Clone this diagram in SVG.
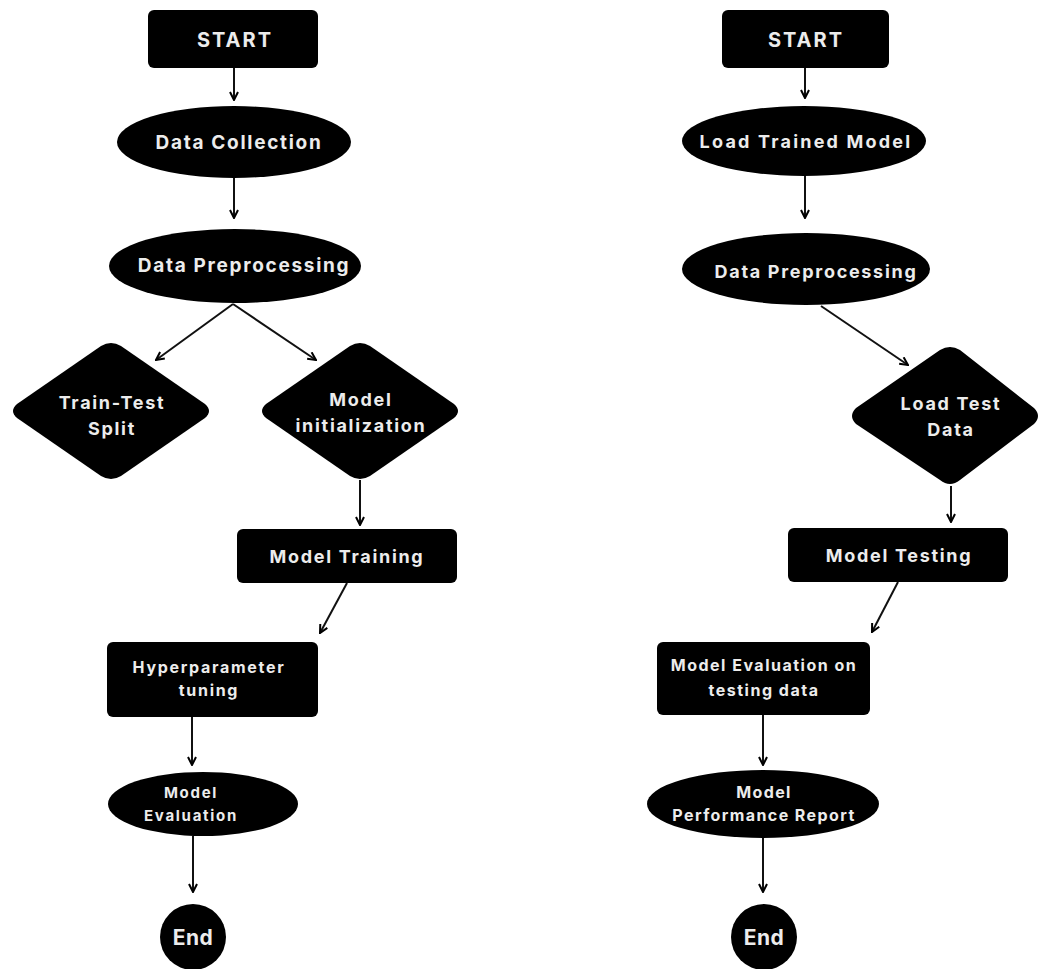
<svg xmlns="http://www.w3.org/2000/svg" width="1040" height="969" viewBox="0 0 1040 969">
<defs>
<marker id="arr" viewBox="0 0 10 10" refX="9" refY="5" markerWidth="10" markerHeight="10" markerUnits="userSpaceOnUse" orient="auto">
<path d="M1,1 L9,5 L1,9" fill="none" stroke="#000" stroke-width="2"/>
</marker>
</defs>
<style>
.n{fill:#000}
.t{fill:#ececec;font-family:Inter,"Liberation Sans",sans-serif;font-weight:700;text-anchor:middle;dominant-baseline:central;letter-spacing:1.7px}
.e{stroke:#111;stroke-width:2;fill:none;marker-end:url(#arr)}
</style>
<rect width="1040" height="969" fill="#fff"/>
<g id="connectors">
<line class="e" x1="234" y1="68" x2="234" y2="100"/>
<line class="e" x1="234" y1="178" x2="234" y2="218"/>
<line class="e" x1="233" y1="304" x2="156" y2="360"/>
<line class="e" x1="233" y1="304" x2="316" y2="360"/>
<line class="e" x1="360" y1="480" x2="360" y2="525"/>
<line class="e" x1="347" y1="583" x2="320" y2="633"/>
<line class="e" x1="192" y1="717" x2="192" y2="765"/>
<line class="e" x1="193" y1="836" x2="193" y2="892"/>
<line class="e" x1="805" y1="68" x2="805" y2="98"/>
<line class="e" x1="805" y1="176" x2="805" y2="218"/>
<line class="e" x1="821" y1="306" x2="908" y2="365"/>
<line class="e" x1="951" y1="486" x2="951" y2="522"/>
<line class="e" x1="898" y1="582" x2="872" y2="632"/>
<line class="e" x1="763" y1="715" x2="763" y2="765"/>
<line class="e" x1="763" y1="838" x2="763" y2="892"/>
</g>
<g id="l-start"><rect class="n" x="148" y="10" width="170" height="58" rx="6"/><text class="t" x="235" y="40" font-size="20" style="letter-spacing:2px">START</text></g>
<g id="l-collect"><ellipse class="n" cx="234" cy="142" rx="117" ry="36"/><text class="t" x="239" y="142" font-size="19">Data Collection</text></g>
<g id="l-preproc"><ellipse class="n" cx="235" cy="266" rx="126" ry="37"/><text class="t" x="244" y="265" font-size="19">Data Preprocessing</text></g>
<g id="l-split"><path class="n" d="M101,346 Q111,340 121,346 L205,404 Q213,411 205,418 L121,476 Q111,482 101,476 L17,418 Q9,411 17,404 Z"/><text class="t" x="112" y="402" font-size="18">Train-Test</text><text class="t" x="112" y="428" font-size="18">Split</text></g>
<g id="l-init"><path class="n" d="M350,346 Q360,340 370,346 L454,404 Q462,411 454,418 L370,476 Q360,482 350,476 L266,418 Q258,411 266,404 Z"/><text class="t" x="361" y="399" font-size="18">Model</text><text class="t" x="361" y="425" font-size="18">initialization</text></g>
<g id="l-train"><rect class="n" x="237" y="529" width="220" height="54" rx="6"/><text class="t" x="347" y="556" font-size="18">Model Training</text></g>
<g id="l-hyper"><rect class="n" x="107" y="642" width="211" height="75" rx="6"/><text class="t" x="209" y="667" font-size="16">Hyperparameter</text><text class="t" x="209" y="690" font-size="16">tuning</text></g>
<g id="l-eval"><ellipse class="n" cx="203" cy="804" rx="95" ry="32"/><text class="t" x="191" y="792" font-size="15">Model</text><text class="t" x="191" y="815" font-size="15">Evaluation</text></g>
<g id="l-end"><circle class="n" cx="193" cy="937" r="33"/><text class="t" x="193" y="937" font-size="21" style="letter-spacing:0.5px">End</text></g>
<g id="r-start"><rect class="n" x="722" y="10" width="167" height="58" rx="6"/><text class="t" x="806" y="40" font-size="20" style="letter-spacing:2px">START</text></g>
<g id="r-load"><ellipse class="n" cx="804" cy="141" rx="122" ry="35"/><text class="t" x="806" y="141" font-size="18" style="letter-spacing:2.2px">Load Trained Model</text></g>
<g id="r-preproc"><ellipse class="n" cx="806" cy="269" rx="124" ry="36"/><text class="t" x="816" y="271" font-size="18">Data Preprocessing</text></g>
<g id="r-testdata"><path class="n" d="M940,350 Q950,344 960,350 L1034,408 Q1042,416 1034,424 L960,480 Q950,488 940,480 L856,424 Q848,416 856,408 Z"/><text class="t" x="951" y="403" font-size="18">Load Test</text><text class="t" x="951" y="429" font-size="18">Data</text></g>
<g id="r-testing"><rect class="n" x="788" y="528" width="220" height="54" rx="6"/><text class="t" x="899" y="555" font-size="18">Model Testing</text></g>
<g id="r-evaldata"><rect class="n" x="657" y="642" width="213" height="73" rx="6"/><text class="t" x="764" y="665" font-size="16" style="letter-spacing:1.5px">Model Evaluation on</text><text class="t" x="764" y="690" font-size="16" style="letter-spacing:1.5px">testing data</text></g>
<g id="r-report"><ellipse class="n" cx="763" cy="804" rx="116" ry="34"/><text class="t" x="764" y="792" font-size="16" style="letter-spacing:1.4px">Model</text><text class="t" x="764" y="815" font-size="16" style="letter-spacing:1.4px">Performance Report</text></g>
<g id="r-end"><circle class="n" cx="764" cy="937" r="33"/><text class="t" x="764" y="937" font-size="21" style="letter-spacing:0.5px">End</text></g>
</svg>
